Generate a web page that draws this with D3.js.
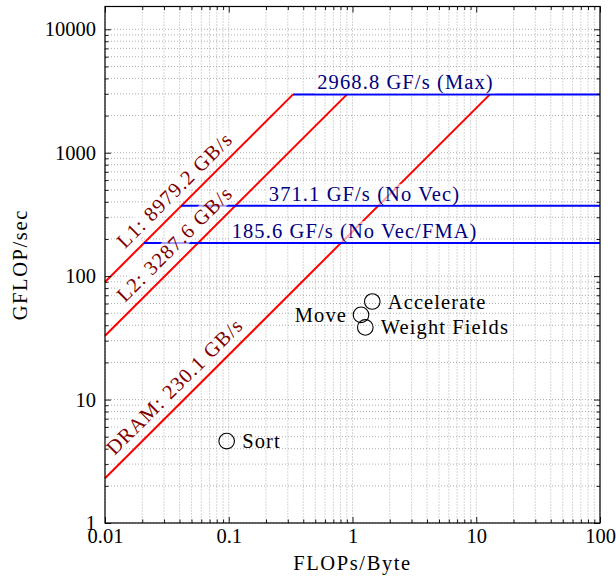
<!DOCTYPE html>
<html>
<head>
<meta charset="utf-8">
<script src="https://cdn.jsdelivr.net/npm/d3@7"></script>
<style>
  html, body { margin: 0; padding: 0; background: #fff; }
  svg { display: block; }
  text { font-family: "Liberation Serif", "DejaVu Serif", serif; }
</style>
</head>
<body>
<svg id="chart" width="616" height="581"></svg>
<script>
// Roofline: attainable GFLOP/s versus arithmetic intensity (FLOPs/Byte)

// Memory bandwidth roofs (GB/s)
const memoryNames = ["L1", "L2", "DRAM"];
const memoryBandwidth = [8979.2, 3287.6, 230.1];

// Compute ceilings (GF/s)
const ceilingValues = [2968.8, 371.1, 185.6];
const ceilingLabels = ["2968.8 GF/s (Max)", "371.1 GF/s (No Vec)", "185.6 GF/s (No Vec/FMA)"];

// Measured kernels
const kernelNames = ["Sort", "Accelerate", "Move", "Weight Fields"];
const kernelIntensity = [0.0962, 1.445, 1.172, 1.269];
const kernelPerf = [4.61, 62.3, 48.6, 38.4];

// Axis ticks
const xTickValues = [0.01, 0.1, 1, 10, 100];
const xTickLabels = ["0.01", "0.1", "1", "10", "100"];
const yTickValues = [1, 10, 100, 1000, 10000];
const yTickLabels = ["1", "10", "100", "1000", "10000"];

// ---- layout ----
const plotLeft = 105, plotRight = 600, plotTop = 6.5, plotBottom = 523;
const xDomain = [0.01, 100], yDomain = [1, 15300];
const fontSize = 20.5;
const memColor = "#ff0000", memText = "#800000";
const cpuColor = "#0000ff", cpuText = "#000080";
const kernelLabelSide = ["right", "right", "left", "right"];
const ceilingLabelCenter = [2.68, 1.25, 1.04];   // x position of each ceiling label
const roofLabelCenter = 0.045;                   // x position of the sloped labels

const svg = d3.select("#chart");
const x = d3.scaleLog().domain(xDomain).range([plotLeft, plotRight]);
const y = d3.scaleLog().domain(yDomain).range([plotBottom, plotTop]);

// minor tick positions (2..9 × 10^n) inside the domain
function minors(domain) {
  const out = [];
  for (let e = Math.floor(Math.log10(domain[0])); e <= Math.ceil(Math.log10(domain[1])); e++) {
    for (let k = 2; k <= 9; k++) {
      const v = k * Math.pow(10, e);
      if (v > domain[0] && v < domain[1]) out.push(v);
    }
  }
  return out;
}
const xMinor = minors(xDomain), yMinor = minors(yDomain);

// ---- grid ----
const grid = svg.append("g").attr("stroke", "#9a9a9a").attr("stroke-width", 0.8)
  .attr("stroke-dasharray", "1,2");
grid.selectAll("line.gx").data(xTickValues.concat(xMinor)).join("line").attr("class", "gx")
  .attr("x1", d => x(d)).attr("x2", d => x(d)).attr("y1", plotTop).attr("y2", plotBottom);
grid.selectAll("line.gy").data(yTickValues.concat(yMinor)).join("line").attr("class", "gy")
  .attr("y1", d => y(d)).attr("y2", d => y(d)).attr("x1", plotLeft).attr("x2", plotRight);

// ---- roofs ----
const peak = ceilingValues[0];
const lines = svg.append("g").attr("fill", "none").attr("stroke-width", 2);
const roofLine = d3.line().x(d => x(d[0])).y(d => y(d[1]));

memoryBandwidth.forEach(bw => {
  const xEnd = peak / bw;
  lines.append("path").attr("stroke", memColor)
    .attr("d", roofLine([[xDomain[0], bw * xDomain[0]], [xEnd, peak]]));
});
const l1 = memoryBandwidth[0];
ceilingValues.forEach(c => {
  lines.append("path").attr("stroke", cpuColor)
    .attr("d", roofLine([[c / l1, c], [xDomain[1], c]]));
});

// ---- labels with translucent white boxes ----
const labels = svg.append("g").attr("font-size", fontSize);

function boxed(g, str, color) {
  const t = g.append("text").attr("text-anchor", "middle").attr("fill", color)
    .attr("letter-spacing", "1.1px").text(str);
  const b = t.node().getBBox();
  g.insert("rect", "text").attr("x", b.x - 2).attr("y", b.y + 1)
    .attr("width", b.width + 4).attr("height", b.height - 2)
    .attr("fill", "#fff").attr("fill-opacity", 0.62);
}

memoryBandwidth.forEach((bw, i) => {
  const xa = roofLabelCenter * 0.5, xb = roofLabelCenter * 2;
  const ang = Math.atan2(y(bw * xb) - y(bw * xa), x(xb) - x(xa)) * 180 / Math.PI;
  const g = labels.append("g")
    .attr("transform", `translate(${x(roofLabelCenter)},${y(bw * roofLabelCenter)}) rotate(${ang}) translate(0,-9)`);
  boxed(g, `${memoryNames[i]}: ${bw.toFixed(1)} GB/s`, memText);
});

ceilingValues.forEach((c, i) => {
  const g = labels.append("g")
    .attr("transform", `translate(${x(ceilingLabelCenter[i])},${y(c) - 5})`);
  boxed(g, ceilingLabels[i], cpuText);
});

// ---- kernels ----
const kg = svg.append("g");
kg.selectAll("circle").data(kernelNames).join("circle")
  .attr("cx", (d, i) => x(kernelIntensity[i]))
  .attr("cy", (d, i) => y(kernelPerf[i]))
  .attr("r", 7.8).attr("fill", "none").attr("stroke", "#000").attr("stroke-width", 1.1);
kg.selectAll("text").data(kernelNames).join("text")
  .attr("x", (d, i) => x(kernelIntensity[i]) + (kernelLabelSide[i] === "left" ? -14 : 15.5))
  .attr("y", (d, i) => y(kernelPerf[i]) + 7)
  .attr("text-anchor", (d, i) => kernelLabelSide[i] === "left" ? "end" : "start")
  .attr("font-size", fontSize).attr("letter-spacing", "1.1px").attr("fill", "#000")
  .text(d => d);

// ---- axes (ticks inside on all four sides) ----
function styleAxis(g) {
  g.select(".domain").remove();
  g.selectAll(".tick line").attr("stroke", "#000").attr("stroke-width", 0.9);
  g.selectAll("text").attr("font-size", fontSize).attr("font-family", "Liberation Serif").attr("fill", "#000");
}
const major = 6, minor = 3.5;
svg.append("g").attr("transform", `translate(0,${plotBottom})`)
  .call(d3.axisBottom(x).tickValues(xTickValues).tickFormat((d, i) => xTickLabels[i])
    .tickSizeInner(-major).tickSizeOuter(0).tickPadding(5.5)).call(styleAxis);
svg.append("g").attr("transform", `translate(0,${plotBottom})`)
  .call(d3.axisBottom(x).tickValues(xMinor).tickFormat("").tickSizeInner(-minor).tickSizeOuter(0)).call(styleAxis);
svg.append("g").attr("transform", `translate(0,${plotTop})`)
  .call(d3.axisTop(x).tickValues(xTickValues).tickFormat("").tickSizeInner(-major).tickSizeOuter(0)).call(styleAxis);
svg.append("g").attr("transform", `translate(0,${plotTop})`)
  .call(d3.axisTop(x).tickValues(xMinor).tickFormat("").tickSizeInner(-minor).tickSizeOuter(0)).call(styleAxis);
svg.append("g").attr("transform", `translate(${plotLeft},0)`)
  .call(d3.axisLeft(y).tickValues(yTickValues).tickFormat((d, i) => yTickLabels[i])
    .tickSizeInner(-major).tickSizeOuter(0).tickPadding(9)).call(styleAxis);
svg.append("g").attr("transform", `translate(${plotLeft},0)`)
  .call(d3.axisLeft(y).tickValues(yMinor).tickFormat("").tickSizeInner(-minor).tickSizeOuter(0)).call(styleAxis);
svg.append("g").attr("transform", `translate(${plotRight},0)`)
  .call(d3.axisRight(y).tickValues(yTickValues).tickFormat("").tickSizeInner(-major).tickSizeOuter(0)).call(styleAxis);
svg.append("g").attr("transform", `translate(${plotRight},0)`)
  .call(d3.axisRight(y).tickValues(yMinor).tickFormat("").tickSizeInner(-minor).tickSizeOuter(0)).call(styleAxis);

// frame
svg.append("rect").attr("x", plotLeft).attr("y", plotTop)
  .attr("width", plotRight - plotLeft).attr("height", plotBottom - plotTop)
  .attr("fill", "none").attr("stroke", "#000").attr("stroke-width", 1.2);

// axis titles
svg.append("text").attr("x", (plotLeft + plotRight) / 2).attr("y", 570).attr("text-anchor", "middle")
  .attr("font-size", fontSize).attr("letter-spacing", "1.6px").text("FLOPs/Byte");
svg.append("text").attr("transform", `translate(27,${(plotTop + plotBottom) / 2}) rotate(-90)`)
  .attr("text-anchor", "middle").attr("font-size", fontSize).attr("letter-spacing", "1.6px")
  .text("GFLOP/sec");
</script>
</body>
</html>
